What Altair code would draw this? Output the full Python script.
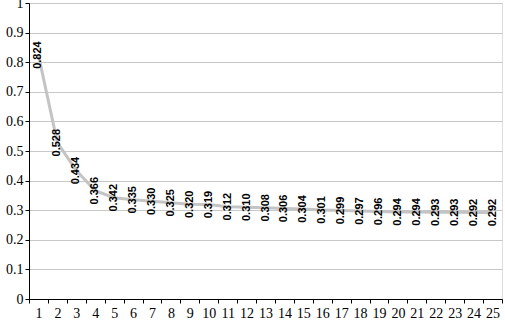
import altair as alt
import pandas as pd

categories = list(range(1, 26))
values = [0.824, 0.528, 0.434, 0.366, 0.342, 0.335, 0.330, 0.325, 0.320, 0.319,
          0.312, 0.310, 0.308, 0.306, 0.304, 0.301, 0.299, 0.297, 0.296, 0.294,
          0.294, 0.293, 0.293, 0.292, 0.292]

df = pd.DataFrame({"k": categories, "v": values})
df["lbl"] = [f"{v:.3f}" for v in values]

SERIF = "Liberation Serif"

x = alt.X("k:O", sort=categories, title=None,
          scale=alt.Scale(paddingInner=0, paddingOuter=0),
          axis=alt.Axis(labelAngle=0, tickBand="extent", labelFont=SERIF,
                        labelFontSize=14, labelColor="#000", domainColor="#000",
                        tickColor="#000", tickSize=4, labelPadding=3, grid=False))
y = alt.Y("v:Q", title=None,
          scale=alt.Scale(domain=[0, 1], nice=False, zero=True),
          axis=alt.Axis(values=[i / 10 for i in range(11)], format="~g",
                        labelFont=SERIF, labelFontSize=14,
                        labelColor="#000", domainColor="#000", tickColor="#000",
                        tickSize=4, labelPadding=2, gridColor="#c8c8c8",
                        gridWidth=1))

line = alt.Chart(df).mark_line(color="#c4c4c4", strokeWidth=3).encode(x=x, y=y)
text = alt.Chart(df).mark_text(angle=270, align="center", baseline="middle",
                               font="Liberation Sans",
                               fontWeight="bold",
                               fontSize=11, color="#000").encode(x=x, y=y, text="lbl:N")

chart = (line + text).properties(
    width=473, height=296,
    padding={"left": 29, "top": 3, "right": 3, "bottom": 23},
    autosize=alt.AutoSizeParams(type="none"),
).configure_view(stroke="#a0a0a0", strokeWidth=1).configure(background="white")

chart.save("out.html", embed_options={"renderer": "svg", "actions": False})
